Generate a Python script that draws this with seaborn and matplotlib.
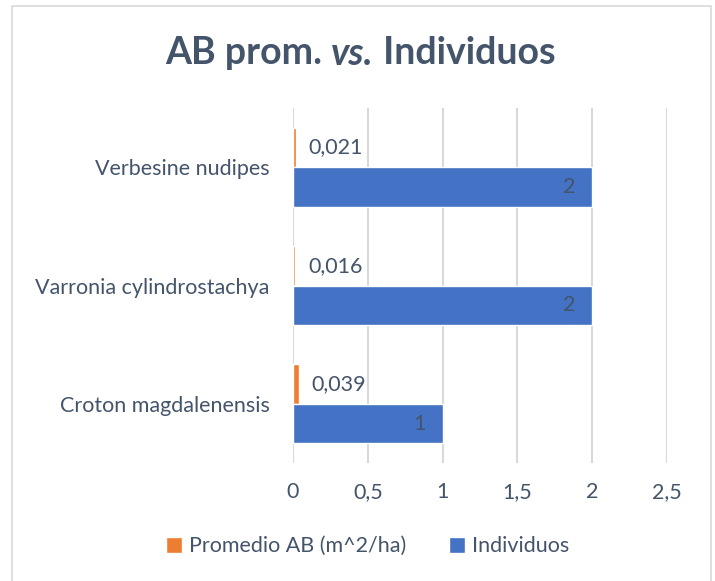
import matplotlib
matplotlib.use("Agg")
import pandas as pd
import seaborn as sns
from matplotlib import pyplot as plt
from matplotlib.patches import Rectangle
from matplotlib.ticker import FuncFormatter

# data
species = ["Verbesine nudipes", "Varronia cylindrostachya", "Croton magdalenensis"]
ab_prom = [0.021, 0.016, 0.039]
individuos = [2, 2, 1]
series = ["Promedio AB (m^2/ha)", "Individuos"]
colors = ["#ED7D31", "#4472C4"]
x_ticks = [0, 0.5, 1, 1.5, 2, 2.5]

TXT = "#44546A"
GRID = "#D9D9D9"
FS = 15.5


def comma(v, _=None):
    s = f"{v:g}"
    return s.replace(".", ",")


df = pd.DataFrame({
    "especie": species * 2,
    "valor": ab_prom + individuos,
    "serie": [series[0]] * len(species) + [series[1]] * len(species),
})

sns.set_style("white")
plt.rcParams["font.family"] = ["Lato", "DejaVu Sans"]

fig = plt.figure(figsize=(7.15, 5.81), dpi=100)
ax = fig.add_axes([293 / 715, 1 - 463 / 581, 374 / 715, 355 / 581])

sns.barplot(data=df, y="especie", x="valor", hue="serie", order=species,
            hue_order=series, palette=colors, width=0.67, orient="h",
            saturation=1, ax=ax, legend=True)

ax.set_xlim(0, 2.5)
ax.set_xticks(x_ticks)
ax.xaxis.set_major_formatter(FuncFormatter(comma))
ax.set_xlabel("")
ax.set_ylabel("")
ax.grid(axis="x", color=GRID, linewidth=1.5)
ax.set_axisbelow(True)
for sp in ax.spines.values():
    sp.set_visible(False)
ax.tick_params(axis="both", length=0, labelsize=FS, labelcolor=TXT)
ax.tick_params(axis="y", pad=17)
ax.tick_params(axis="x", pad=14)

# data labels
ax.bar_label(ax.containers[0], labels=[comma(v) for v in ab_prom],
             padding=9, fontsize=FS, color=TXT)
ax.bar_label(ax.containers[1], labels=[comma(v) for v in individuos],
             padding=-21, fontsize=FS, color=TXT)

handles, labels = ax.get_legend_handles_labels()
ax.legend_.remove()
fig.legend(handles, labels, loc="center", bbox_to_anchor=(0.514, 0.06),
           ncol=2, frameon=False, fontsize=FS, labelcolor=TXT,
           handlelength=0.75, handleheight=0.75, handletextpad=0.3,
           columnspacing=2.0)

# title in three pieces so only "vs." is italic
parts = [("AB prom. ", "normal"), ("vs.", "italic"), (" Individuos", "normal")]
renderer = fig.canvas.get_renderer()
texts = []
for s, style in parts:
    t = fig.text(0, 0.908, s, fontsize=27, fontweight="bold", style=style,
                 color=TXT, va="center", ha="left")
    texts.append(t)
widths = [t.get_window_extent(renderer).width for t in texts]
x = 360 - sum(widths) / 2
for t, w in zip(texts, widths):
    t.set_x(x / 715)
    x += w

# chart area border
fig.patches.append(Rectangle((12 / 715, -0.01), 699 / 715, 1 - 6 / 581 + 0.01,
                             transform=fig.transFigure, fill=False,
                             edgecolor=GRID, linewidth=1.2))

fig.savefig("out.png", dpi=100)
